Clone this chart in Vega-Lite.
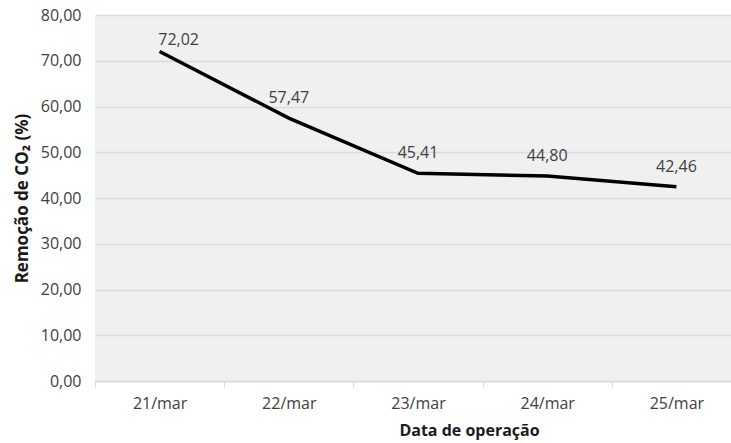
{
  "$schema": "https://vega.github.io/schema/vega-lite/v6.json",
  "autosize": {"type": "none"},
  "padding": {"left": 95, "top": 15, "right": 0, "bottom": 62},
  "width": 636,
  "height": 366,
  "background": "white",
  "config": {
    "locale": {"number": {"decimal": ",", "thousands": ".", "grouping": [3], "currency": ["R$", ""]}},
    "view": {"stroke": null, "fill": "#f0f0f0"},
    "font": "Open Sans"
  },
  "data": {
    "values": [
      {"data": "21/mar", "remocao": 72.02},
      {"data": "22/mar", "remocao": 57.47},
      {"data": "23/mar", "remocao": 45.41},
      {"data": "24/mar", "remocao": 44.80},
      {"data": "25/mar", "remocao": 42.46}
    ]
  },
  "encoding": {
    "x": {
      "field": "data", "type": "ordinal",
      "scale": {"paddingInner": 0, "paddingOuter": 0, "range": [0, 646]},
      "axis": {
        "title": "Data de operação",
        "titleFont": "Open Sans", "titleFontSize": 16, "titleFontWeight": "bold", "titleColor": "#1a1a1a",
        "titleX": 374, "titleAlign": "center", "titleAnchor": null,
        "titlePadding": 11,
        "labelAngle": 0, "labelFontSize": 16, "labelColor": "#404040", "labelPadding": 8,
        "tickBand": "extent", "tickColor": "#d9d9d9", "tickSize": 6,
        "domainColor": "#d9d9d9", "domainWidth": 1.5, "grid": false
      }
    },
    "y": {
      "field": "remocao", "type": "quantitative",
      "scale": {"domain": [0, 80], "nice": false},
      "axis": {
        "title": "Remoção de CO₂ (%)",
        "titleFont": "Open Sans", "titleFontSize": 17, "titleFontWeight": "bold", "titleColor": "#1a1a1a",
        "titlePadding": 9,
        "values": [0, 10, 20, 30, 40, 50, 60, 70, 80],
        "format": ".2f",
        "labelFontSize": 16, "labelColor": "#404040", "labelPadding": 14,
        "ticks": false, "domain": false,
        "grid": true, "gridColor": "#dcdcdc", "gridWidth": 1.5
      }
    }
  },
  "layer": [
    {"mark": {"type": "line", "color": "#000000", "strokeWidth": 3.5}},
    {
      "transform": [{"filter": "datum.data !== '21/mar'"}],
      "mark": {"type": "text", "dy": -20, "fontSize": 16, "color": "#404040", "font": "Open Sans"},
      "encoding": {"text": {"field": "remocao", "type": "quantitative", "format": ".2f"}}
    },
    {
      "transform": [{"filter": "datum.data === '21/mar'"}],
      "mark": {"type": "text", "dy": -12, "dx": 19, "fontSize": 16, "color": "#404040", "font": "Open Sans"},
      "encoding": {"text": {"field": "remocao", "type": "quantitative", "format": ".2f"}}
    }
  ]
}
